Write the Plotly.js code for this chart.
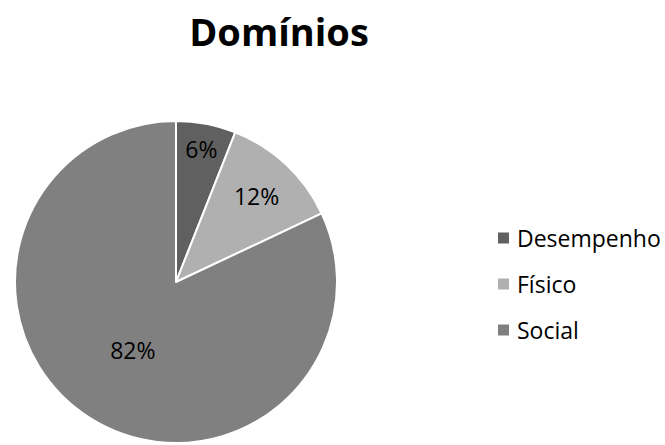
<!DOCTYPE html>
<html>
<head>
<meta charset="utf-8">
<script src="https://cdn.plot.ly/plotly-3.0.1.min.js"></script>
<style>html,body{margin:0;padding:0;background:#fff;}#chart{width:665px;height:445px;}</style>
</head>
<body>
<div id="chart"></div>
<script>
var categories = ["Desempenho", "Físico", "Social"];
var values = [6, 12, 82];
var colors = ["#606060", "#b0b0b0", "#808080"];
var chartTitle = "Domínios";

var FONT = "Open Sans, Liberation Sans, sans-serif";
var W = 665, H = 445;
var cx = 176, cy = 282, r = 161;

var trace = {
  type: "pie",
  labels: categories,
  values: values,
  sort: false,
  direction: "clockwise",
  rotation: 0,
  marker: {colors: colors, line: {color: "#ffffff", width: 2}},
  texttemplate: "%{percent:.0%}",
  textposition: "inside",
  insidetextorientation: "horizontal",
  insidetextfont: {family: FONT, size: 23, color: "#000000"},
  hoverinfo: "label+percent",
  showlegend: false,
  domain: {x: [(cx - r) / W, (cx + r) / W], y: [(H - cy - r) / H, (H - cy + r) / H]}
};

var annotations = [];
var shapes = [];
var legX = 498, legY0 = 238, legStep = 46, sq = 11;
categories.forEach(function (c, i) {
  var y = legY0 + i * legStep;
  shapes.push({type: "rect", xref: "paper", yref: "paper",
    x0: legX / W, x1: (legX + sq) / W, y0: (H - y - sq / 2) / H, y1: (H - y + sq / 2) / H,
    fillcolor: colors[i], line: {width: 0}});
  annotations.push({xref: "paper", yref: "paper", x: 515 / W, y: (H - y) / H,
    xanchor: "left", yanchor: "middle", showarrow: false, text: c,
    font: {family: FONT, size: 23, color: "#000000"}});
});

var layout = {
  width: W, height: H,
  margin: {l: 0, r: 0, t: 0, b: 0},
  paper_bgcolor: "#ffffff",
  title: {text: "<b>" + chartTitle + "</b>", font: {family: FONT, size: 38, color: "#000000"},
    x: 279 / W, xanchor: "center", y: (H - 33) / H, yanchor: "middle"},
  showlegend: false,
  shapes: shapes,
  annotations: annotations
};

Plotly.newPlot("chart", [trace], layout, {displayModeBar: false, staticPlot: true});
</script>
</body>
</html>
